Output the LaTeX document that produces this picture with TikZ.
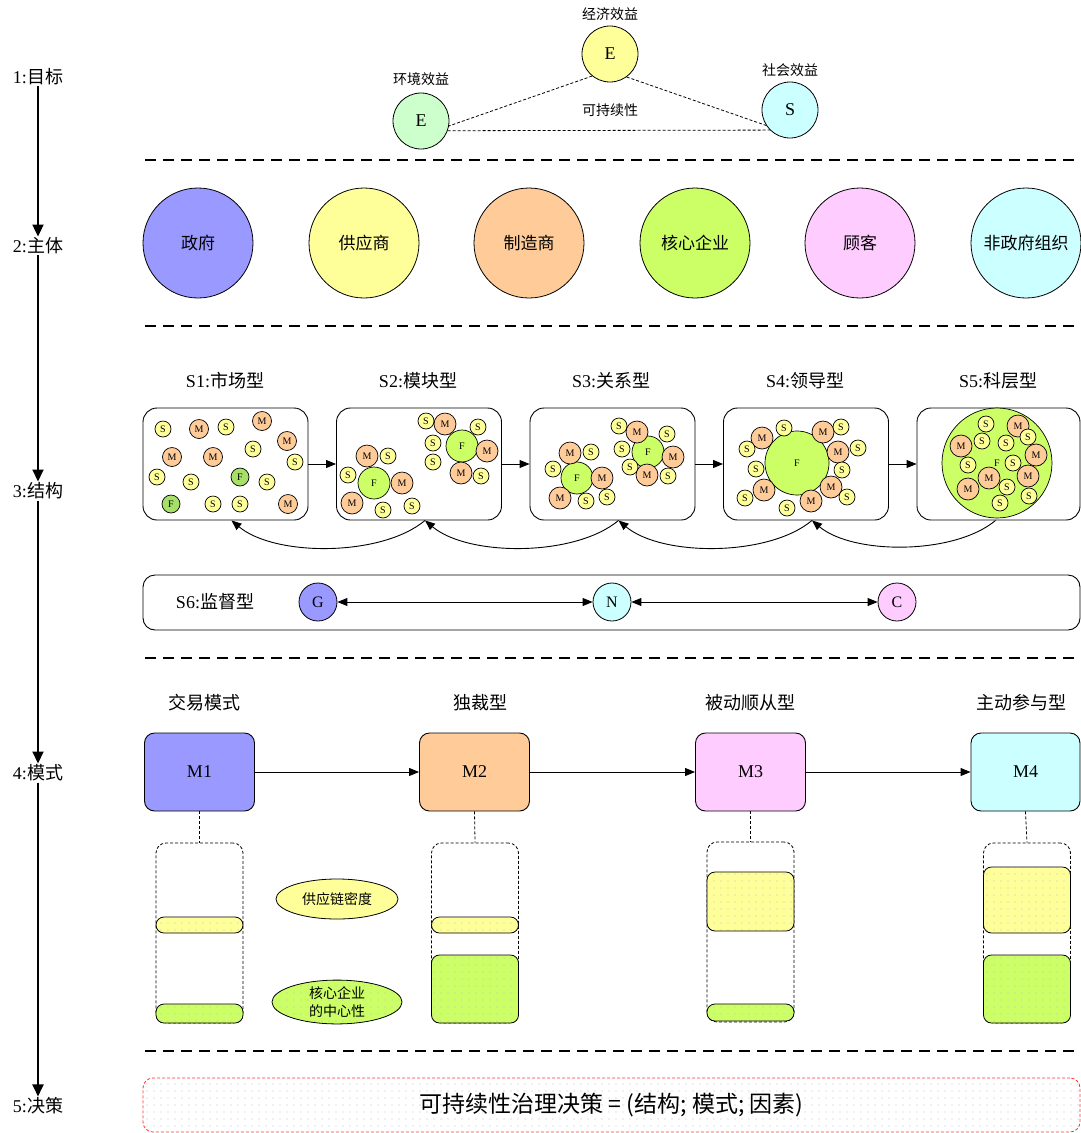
\documentclass[tikz,border=0pt]{standalone}
\usepackage{fontspec}
\setmainfont{Liberation Serif}
\newfontfamily\cjk{Noto Sans CJK SC}
\usetikzlibrary{arrows.meta,patterns.meta,shapes.geometric}
\definecolor{cBlue}{HTML}{9999FF}
\definecolor{cYel}{HTML}{FFFF99}
\definecolor{cOra}{HTML}{FFCC99}
\definecolor{cGrn}{HTML}{CCFF66}
\definecolor{cPnk}{HTML}{FFCCFF}
\definecolor{cCyn}{HTML}{CCFFFF}
\definecolor{cMint}{HTML}{CCFFCC}
\definecolor{cDkG}{HTML}{A6E066}
\definecolor{cDot}{HTML}{B8C0D0}
\tikzset{
  fs/.style={font=\fontsize{#1}{#1}\selectfont},
  cfs/.style={font=\cjk\fontsize{#1}{#1}\selectfont},
  side/.style={inner sep=1pt,font=\fontsize{18}{18}\selectfont},
  sep/.style={line width=1.2pt,dash pattern=on 11pt off 7pt},
  tdash/.style={line width=0.8pt,dash pattern=on 3pt off 2pt},
  bigarr/.style={line width=2pt,-{Triangle[length=12pt,width=11pt]}},
  goal/.style={circle,draw,line width=0.8pt,minimum size=56pt,inner sep=0,font=\fontsize{18}{18}\selectfont},
  actor/.style={circle,draw,line width=0.8pt,minimum size=110pt,inner sep=0,font=\cjk\fontsize{17}{17}\selectfont},
  sbox/.style={draw,rounded corners=14pt,line width=0.9pt,minimum width=165pt,minimum height=112pt,inner sep=0},
  sml/.style={circle,draw,line width=0.7pt,inner sep=0,minimum size=#1,font=\fontsize{10}{10}\selectfont},
  sS/.style={sml=16pt,fill=cYel},
  sM/.style={sml=#1,fill=cOra},
  sF/.style={sml=#1,fill=cGrn},
  arr/.style={line width=0.9pt,->},
  mbox/.style={draw,rounded corners=10pt,line width=0.9pt,minimum width=110pt,minimum height=78pt,inner sep=0,font=\fontsize{18}{18}\selectfont},
  cont/.style={draw,line width=0.8pt,dash pattern=on 3pt off 2pt,rounded corners=10pt,minimum width=87pt,minimum height=180pt,inner sep=0},
  dotfill/.style={preaction={fill=#1},pattern={Dots[distance=7pt,radius=0.6pt]},pattern color=cDot},
  bar/.style={draw,line width=0.8pt,rounded corners=8pt,minimum width=87pt,inner sep=0},
}
\begin{document}
\begin{tikzpicture}[x=1pt,y=1pt,>={Triangle[length=10pt,width=8pt]}]
\useasboundingbox (0,0) rectangle (1081,-1133);

% separators
\foreach \yy in {160,326,658,1051} \draw[sep] (145,-\yy) -- (1081,-\yy);

% left column
\node[side] (L1) at (38,-77) {1:{\cjk 目标}};
\node[side] (L2) at (38,-246) {2:{\cjk 主体}};
\node[side] (L3) at (38,-491) {3:{\cjk 结构}};
\node[side] (L4) at (38,-773) {4:{\cjk 模式}};
\node[side] (L5) at (38,-1106) {5:{\cjk 决策}};
\draw[bigarr] (L1.south) -- (L2.north);
\draw[bigarr] (L2.south) -- (L3.north);
\draw[bigarr] (L3.south) -- (L4.north);
\draw[bigarr] (L4.south) -- (L5.north);

% goals
\node[goal,fill=cYel] (Eeco) at (610,-54) {E};
\node[goal,fill=cMint] (Eenv) at (421,-121) {E};
\node[goal,fill=cCyn] (Ssoc) at (790,-110) {S};
\node[cfs=14] (tEco) at (610,-14) {经济效益};
\node[cfs=14] (tEnv) at (421,-79) {环境效益};
\node[cfs=14] (tSoc) at (790,-70) {社会效益};
\node[cfs=14] (tSus) at (610,-110) {可持续性};
\draw[tdash] (Eeco.-129) -- (Eenv.-10);
\draw[tdash] (Eeco.-54) -- (Ssoc.-147);
\draw[tdash] (Eenv.-20) -- (Ssoc.-135);

% actors
\foreach \xx/\cc/\lab [count=\i] in {198/cBlue/政府,364/cYel/供应商,529/cOra/制造商,695/cGrn/核心企业,860/cPnk/顾客,1026/cCyn/非政府组织}
  \node[actor,fill=\cc] (A\i) at (\xx,-243) {\lab};

% structure titles
\node[fs=18] (T1) at (225,-381) {S1:{\cjk 市场型}};
\node[fs=18] (T2) at (418,-381) {S2:{\cjk 模块型}};
\node[fs=18] (T3) at (611,-381) {S3:{\cjk 关系型}};
\node[fs=18] (T4) at (805,-381) {S4:{\cjk 领导型}};
\node[fs=18] (T5) at (998,-381) {S5:{\cjk 科层型}};

% structure boxes
\node[sbox] (B1) at (225.5,-464) {};
\node[sbox] (B2) at (419,-464) {};
\node[sbox] (B3) at (612.5,-464) {};
\node[sbox] (B4) at (806,-464) {};
\node[sbox,minimum width=163pt] (B5) at (998.5,-464) {};
\draw[arr] (B1.east) -- (B2.west);
\draw[arr] (B2.east) -- (B3.west);
\draw[arr] (B3.east) -- (B4.west);
\draw[arr] (B4.east) -- (B5.west);

% S1
\foreach \xx/\yy [count=\i] in {240/477,171/504}
  \node[sml=18pt,fill=cDkG] (s1f\i) at (\xx,-\yy) {F};
\foreach \xx/\yy [count=\i] in {199/429,262/421,287/441,172/457,213/457,288/504}
  \node[sM=19pt] (s1m\i) at (\xx,-\yy) {M};
\foreach \xx/\yy [count=\i] in {163/429,226/427,253/449,295/462,157/477,191/482,267/482,213/504,240/504}
  \node[sS] (s1s\i) at (\xx,-\yy) {S};

% S2
\foreach \xx/\yy [count=\i] in {462/446,374/483}
  \node[sF=32pt] (s2f\i) at (\xx,-\yy) {F};
\foreach \xx/\yy [count=\i] in {445/424,487/451,367/456,461/473,402/483,352/503}
  \node[sM=22pt] (s2m\i) at (\xx,-\yy) {M};
\foreach \xx/\yy [count=\i] in {426/421,478/427,433/443,433/462,388/456,481/476,348/475,383/510,412/506}
  \node[sS] (s2s\i) at (\xx,-\yy) {S};

% S3
\foreach \xx/\yy [count=\i] in {577/478,648/452}
  \node[sF=32pt] (s3f\i) at (\xx,-\yy) {F};
\foreach \xx/\yy [count=\i] in {570/453,602/478,560/498,637/432,673/457,647/475}
  \node[sM=22pt] (s3m\i) at (\xx,-\yy) {M};
\foreach \xx/\yy [count=\i] in {591/452,553/469,586/501,607/497,619/426,667/434,622/449,630/467,668/476}
  \node[sS] (s3s\i) at (\xx,-\yy) {S};

% S4
\node[sF=64pt] (s4f) at (797,-463) {F};
\foreach \xx/\yy [count=\i] in {762/438,823/432,838/452,764/490,831/487,811/501}
  \node[sM=22pt] (s4m\i) at (\xx,-\yy) {M};
\foreach \xx/\yy [count=\i] in {784/428,841/427,747/449,858/448,756/469,842/470,847/497,745/498,787/508}
  \node[sS] (s4s\i) at (\xx,-\yy) {S};

% S5
\node[sF=110pt] (s5f) at (997,-463) {F};
\foreach \xx/\yy [count=\i] in {1018/426,961/446,1036/455,989/478,1028/476,968/489}
  \node[sM=22pt] (s5m\i) at (\xx,-\yy) {M};
\foreach \xx/\yy [count=\i] in {986/424,982/441,1006/443,1028/437,968/465,1013/463,1007/487,1029/496,1000/503}
  \node[sS] (s5s\i) at (\xx,-\yy) {S};

% back arrows
\draw[arr] ([xshift=6pt]B2.south) to[out=-140,in=-40,looseness=0.75] ([xshift=6pt]B1.south);
\draw[arr] ([xshift=6pt]B3.south) to[out=-140,in=-40,looseness=0.75] ([xshift=6pt]B2.south);
\draw[arr] ([xshift=6pt]B4.south) to[out=-140,in=-40,looseness=0.75] ([xshift=6pt]B3.south);
\draw[arr] ([xshift=-3pt]B5.south) to[out=-140,in=-40,looseness=0.75] ([xshift=6pt]B4.south);

% S6
\node[draw,rounded corners=12pt,line width=0.9pt,minimum width=937pt,minimum height=55pt,inner sep=0] (B6) at (611.5,-602.5) {};
\node[fs=18] (T6) at (215,-602) {S6:{\cjk 监督型}};
\node[circle,draw,line width=0.8pt,fill=cBlue,minimum size=38pt,inner sep=0,fs=16] (G) at (318,-602) {G};
\node[circle,draw,line width=0.8pt,fill=cCyn,minimum size=38pt,inner sep=0,fs=16] (N) at (612,-602) {N};
\node[circle,draw,line width=0.8pt,fill=cPnk,minimum size=38pt,inner sep=0,fs=16] (C) at (897,-602) {C};
\draw[arr,<->] (G) -- (N);
\draw[arr,<->] (N) -- (C);

% modes
\node[cfs=18] (P1) at (204,-703) {交易模式};
\node[cfs=18] (P2) at (480,-703) {独裁型};
\node[cfs=18] (P3) at (750,-703) {被动顺从型};
\node[cfs=18] (P4) at (1021,-703) {主动参与型};
\node[mbox,fill=cBlue] (M1) at (199.5,-772) {M1};
\node[mbox,fill=cOra] (M2) at (474.5,-772) {M2};
\node[mbox,fill=cPnk] (M3) at (750.5,-772) {M3};
\node[mbox,fill=cCyn,minimum width=109pt] (M4) at (1025.5,-772) {M4};
\draw[arr] (M1) -- (M2);
\draw[arr] (M2) -- (M3);
\draw[arr] (M3) -- (M4);

% containers
\node[cont] (K1) at (199.5,-933) {};
\node[cont] (K2) at (475,-933) {};
\node[cont] (K3) at (750.5,-932) {};
\node[cont] (K4) at (1027,-933) {};
\draw[tdash] (M1.south) -- (K1.north);
\draw[tdash] (M2.south) -- (K2.north);
\draw[tdash] (M3.south) -- (K3.north);
\draw[tdash] (M4.south) -- (K4.north);

% bars
\node[bar,dotfill=cYel,minimum height=16pt] (Y1) at (199.5,-925) {};
\node[bar,dotfill=cGrn,minimum height=19pt] (G1) at (199.5,-1013.5) {};
\node[bar,dotfill=cYel,minimum height=16pt] (Y2) at (475,-925) {};
\node[bar,dotfill=cGrn,minimum height=68pt] (G2) at (475,-989) {};
\node[bar,dotfill=cYel,minimum height=59pt] (Y3) at (750.5,-901.5) {};
\node[bar,dotfill=cGrn,minimum height=17pt] (G3) at (750.5,-1012.5) {};
\node[bar,dotfill=cYel,minimum height=66pt] (Y4) at (1027,-900) {};
\node[bar,dotfill=cGrn,minimum height=68pt] (G4) at (1027,-989) {};

% legend ellipses
\node[ellipse,draw,line width=0.8pt,fill=cYel,minimum width=122pt,minimum height=40pt,inner sep=0,cfs=14] (E1) at (337,-899) {供应链密度};
\node[ellipse,draw,line width=0.8pt,dotfill=cGrn,minimum width=130pt,minimum height=42pt,inner sep=0,align=center,font=\cjk\fontsize{14}{18}\selectfont] (E2) at (337,-1002) {核心企业\\的中心性};

% decision
\node[draw=red!80,line width=0.8pt,dash pattern=on 3pt off 2pt,rounded corners=10pt,minimum width=937pt,minimum height=54pt,inner sep=0,dotfill=white,font=\cjk\fontsize{23}{23}\selectfont] (D) at (611.5,-1105) {可持续性治理决策 = (结构; 模式; 因素)};
\end{tikzpicture}
\end{document}
